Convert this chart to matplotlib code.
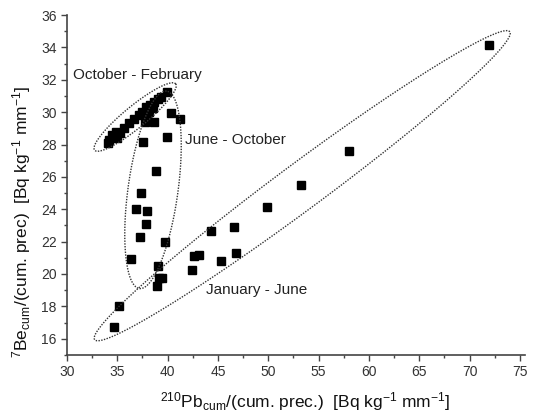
import numpy as np
import matplotlib
matplotlib.use("Agg")
import matplotlib.pyplot as plt
from matplotlib.ticker import MultipleLocator

plt.rcParams["font.family"] = ["Liberation Sans", "DejaVu Sans"]
plt.rcParams["mathtext.fontset"] = "custom"
plt.rcParams["mathtext.rm"] = "Liberation Sans"
plt.rcParams["mathtext.it"] = "Liberation Sans:italic"

# 210Pb / 7Be ratios per sample, grouped by season
oct_feb_pb = [34.06, 34.2, 34.5, 34.9, 35.0, 35.3, 35.7, 36.2, 36.7, 37.2, 37.5, 37.9,
              38.3, 38.6, 39.0, 39.3, 38.2, 38.5, 38.0, 39.95, 37.8, 38.6]
oct_feb_be = [28.08, 28.28, 28.59, 28.80, 28.39, 28.7, 29.0, 29.31, 29.56, 29.83, 30.03, 30.30,
              30.44, 30.65, 30.80, 30.96, 30.03, 30.24, 29.72, 31.23, 29.41, 29.38]

jun_oct_pb = [40.3, 41.2, 39.9, 37.6, 38.8, 37.4, 36.9, 38.0, 37.9, 37.3, 39.7, 36.35,
              39.0, 39.1, 39.45, 38.9]
jun_oct_be = [29.93, 29.58, 28.45, 28.18, 26.39, 24.99, 24.02, 23.92, 23.10, 22.28, 21.97, 20.94,
              20.52, 19.78, 19.75, 19.27]

jan_jun_pb = [34.7, 35.2, 42.4, 42.6, 43.1, 45.3, 46.8, 44.3, 46.6, 49.9, 53.3, 58.0, 71.9]
jan_jun_be = [16.72, 18.05, 20.22, 21.12, 21.19, 20.83, 21.29, 22.67, 22.90, 24.13, 25.5, 27.6, 34.15]

# group outlines: two tips (data units) and full width (pixels)
ellipse_tips = [[(32.75, 27.65), (40.8, 31.75)],
                [(37.2, 19.1), (39.9, 31.3)],
                [(32.75, 15.94), (74.0, 34.97)]]
ellipse_widths = [22, 50, 46]

group_labels = ["October - February", "June - October", "January - June"]
label_pos = [(30.6, 32.3), (41.7, 28.3), (43.85, 19.0)]

fig = plt.figure(figsize=(5.4, 4.18), dpi=100)
ax = fig.add_axes([0.124, 0.151, 0.848, 0.813])

all_pb = oct_feb_pb + jun_oct_pb + jan_jun_pb
all_be = oct_feb_be + jun_oct_be + jan_jun_be
ax.plot(all_pb, all_be, linestyle="none", marker="s", markersize=5.5, color="black")

ax.set_xlim(30, 75.5)
ax.set_ylim(15, 36)
ax.xaxis.set_major_locator(MultipleLocator(5))
ax.xaxis.set_minor_locator(MultipleLocator(2.5))
ax.yaxis.set_major_locator(MultipleLocator(2))
ax.yaxis.set_minor_locator(MultipleLocator(1))
ax.tick_params(which="major", direction="out", length=4, width=1, labelsize=10,
               color="#444444", labelcolor="#333333")
ax.tick_params(which="minor", direction="out", length=2.5, width=1, color="#444444")
for side in ("top", "right"):
    ax.spines[side].set_visible(False)
for side in ("left", "bottom"):
    ax.spines[side].set_color("#444444")
    ax.spines[side].set_linewidth(1.2)

ax.set_xlabel(r"$^{210}$Pb$_{\mathrm{cum}}$/(cum. prec.)  [Bq kg$^{-1}$ mm$^{-1}$]", fontsize=12.5,
              color="#111111")
ax.set_ylabel(r"$^{7}$Be$_{\mathrm{cum}}$/(cum. prec)  [Bq kg$^{-1}$ mm$^{-1}$]", fontsize=12.5,
              color="#111111")
ax.xaxis.set_label_coords(0.52, -0.105)
ax.yaxis.set_label_coords(-0.075, 0.39)

# draw the dotted outlines in pixel space so they keep their shape
to_px = ax.transData
to_data = ax.transData.inverted()
t = np.linspace(0, 2 * np.pi, 300)
for tips, width in zip(ellipse_tips, ellipse_widths):
    p0, p1 = to_px.transform(tips)
    center = (p0 + p1) / 2
    axis_vec = (p1 - p0) / 2
    normal = np.array([-axis_vec[1], axis_vec[0]]) / np.linalg.norm(axis_vec) * width / 2
    pts = center + np.outer(np.cos(t), axis_vec) + np.outer(np.sin(t), normal)
    ell = to_data.transform(pts)
    ax.plot(ell[:, 0], ell[:, 1], color="#333333", linewidth=1.0, linestyle=(0, (1, 1)))

for text, (x, y) in zip(group_labels, label_pos):
    ax.text(x, y, text, fontsize=11, va="center", ha="left", color="#222222")

fig.savefig("out.png", dpi=100)
